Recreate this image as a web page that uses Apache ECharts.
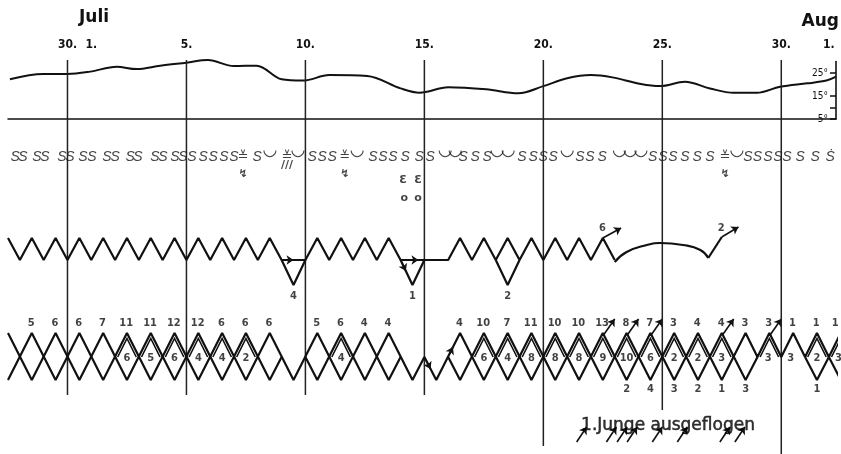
<!DOCTYPE html>
<html><head><meta charset="utf-8">
<script src="https://cdn.jsdelivr.net/npm/echarts@6/dist/echarts.min.js"></script>
<style>html,body{margin:0;padding:0;background:#fff}#c{width:841px;height:454px}</style>
</head><body><div id="c"></div>
<script>
// ---------------- DATA ----------------
// day index: 0 = 30. Juni, 1 = 1. Juli ... 30 = 30. Juli, 32 = 1. Aug
const dayTicks  = [0, 1, 5, 10, 15, 20, 25, 30, 32];
const dayLabels = ['30.', '1.', '5.', '10.', '15.', '20.', '25.', '30.', '1.'];
const dayLines  = [0, 5, 10, 15, 20, 25, 30];

// temperature (°C)
const tempDays   = [-2.42,-1.02,0,0.95,2.07,2.9,3.9,5.0,5.9,7.0,7.95,9.0,9.9,11.0,12.6,14.0,14.8,16.0,17.6,18.95,20.0,21.0,22.0,22.9,24.1,24.9,25.95,27.0,28.0,28.97,29.95,31.1,31.9,32.3];
const tempValues = [22.3,24.6,24.6,25.6,27.7,26.7,28.2,29.5,30.6,28.0,28.2,22.3,21.7,24.1,23.7,18.3,16.4,18.8,17.9,16.2,19.3,22.7,24.1,23.1,20.2,19.3,21.2,18.3,16.4,16.4,19.0,20.5,21.7,23.4];
const tempTicks  = [5, 15, 25];
const tempMinorTicks = [5, 10, 15, 25];

// weather observations (S = sonnig, C = bewölkt, R = Gewitter/Regen, D = S mit Punkt)
const weatherDays  = [-2.2,-1.87,-1.28,-0.95,-0.23,0.1,0.65,1.03,1.66,2.0,2.63,2.96,3.68,4.01,4.52,4.85,5.23,5.70,6.12,6.58,7.0,
  7.38,7.97,8.51,9.23,9.69,10.28,10.70,11.12,11.66,12.17,12.84,13.26,13.68,14.19,14.78,15.24,15.87,16.29,16.63,17.13,17.64,
  18.06,18.52,19.1,19.57,19.99,20.41,21.0,21.54,21.96,22.47,23.2,23.65,24.1,24.6,25.03,25.45,25.95,26.46,27.0,27.64,28.14,
  28.6,29.0,29.44,29.86,30.24,30.79,31.42,32.05];
const weatherCodes = ['S','S','S','S','S','S','S','S','S','S','S','S','S','S','S','S','S','S','S','S','S',
  'R','S','C','R','C','S','S','S','R','C','S','S','S','S','S','S','C','C','S','S','S',
  'C','C','S','S','S','S','C','S','S','S','C','C','C','S','S','S','S','S','S','R','C',
  'S','S','S','S','S','S','S','D'];
const extraDays  = [7.38, 9.23, 11.66, 27.64, 14.1, 14.73, 14.15, 14.73];
const extraCodes = ['Z', 'W', 'Z', 'Z', 'E', 'E', 'O', 'O'];

// row 1: activity line (H = oben, L = unten, D = tief)
const row1Main = [[-2.5,'H'],[-2,'L'],[-1.5,'H'],[-1,'L'],[-0.5,'H'],[0,'L'],[0.5,'H'],[1,'L'],[1.5,'H'],[2,'L'],[2.5,'H'],[3,'L'],
  [3.5,'H'],[4,'L'],[4.5,'H'],[5,'L'],[5.5,'H'],[6,'L'],[6.5,'H'],[7,'L'],[7.5,'H'],[8,'L'],[8.5,'H'],[9,'L'],[10,'L'],[10.5,'H'],
  [11,'L'],[11.5,'H'],[12,'L'],[12.5,'H'],[13,'L'],[13.5,'H'],[14,'L'],[16,'L'],[16.5,'H'],[17,'L'],[17.5,'H'],[18,'L'],[18.5,'H'],
  [19,'L'],[19.5,'H'],[20,'L'],[20.5,'H'],[21,'L'],[21.5,'H'],[22,'L'],[22.5,'H'],[23,'L']];
const row1DipDays   = [9.5, 14.5, 18.5];
const row1DipLabels = ['4', '1', '2'];
const row1ArcDays   = [23, 23.5, 24.35, 24.9, 25.87, 26.6, 26.93];
const row1ArcLevels = [20.6, 19.6, 18.9, 18.7, 18.9, 19.4, 20.2];
const row1ExitDays   = [22.5, 27.5];
const row1ExitLabels = ['6', '2'];

// row 2: two crossing lines (T = oben, M = Mitte, B = unten)
const row2Lines = [
  [[-2.5,'T'],[-1.5,'B'],[-0.5,'T'],[0.5,'B'],[1.5,'T'],[2.5,'B'],[3.5,'T'],[4.5,'B'],[5.5,'T'],[6.5,'B'],[7.5,'T'],[8.5,'B'],[9,'M']],
  [[10,'M'],[10.5,'B'],[11.5,'T'],[12.5,'B'],[13.5,'T'],[14.5,'B'],[15,'M'],[15.5,'B'],[16.5,'T'],[17.5,'B'],[18.5,'T'],[19.5,'B'],
   [20.5,'T'],[21.5,'B'],[22.5,'T'],[23.5,'B'],[24.5,'T'],[25.5,'B'],[26.5,'T'],[27.5,'B'],[28.5,'T'],[29,'M'],[29.5,'T'],[30,'M'],
   [30.5,'T'],[31,'M'],[31.5,'T'],[32,'M'],[32.5,'T']],
  [[-2.5,'B'],[-1.5,'T'],[-0.5,'B'],[0.5,'T'],[1.5,'B'],[2.5,'T'],[3.5,'B'],[4.5,'T'],[5.5,'B'],[6.5,'T'],[7.5,'B'],[8.5,'T'],
   [9.5,'B'],[10.5,'T'],[11.5,'B'],[12.5,'T'],[13.5,'B'],[14,'M']],
  [[16,'M'],[16.5,'B'],[17.5,'T'],[18.5,'B'],[19.5,'T'],[20.5,'B'],[21.5,'T'],[22.5,'B'],[23.5,'T'],[24.5,'B'],[25.5,'T'],
   [26.5,'B'],[27.5,'T'],[28.5,'B'],[29,'M']],
  [[31,'M'],[31.5,'B'],[32,'M'],[32.5,'B']]
];
const row2TopDays   = [-1.5,-0.5,0.5,1.5,2.5,3.5,4.5,5.5,6.5,7.5,8.5,10.5,11.5,12.5,13.5,16.5,17.5,18.5,19.5,20.5,21.5,22.5,23.5,24.5,25.5,26.5,27.5,28.5,29.5,30.5,31.5,32.3];
const row2TopCounts = ['5','6','6','7','11','11','12','12','6','6','6','5','6','4','4','4','10','7','11','10','10','13','8','7','3','4','4','3','3','1','1','1'];
const row2InDays    = [2.5,3.5,4.5,5.5,6.5,7.5,11.5,17.5,18.5,19.5,20.5,21.5,22.5,23.5,24.5,25.5,26.5,27.5,29.45,30.4,31.5,32.4];
const row2InCounts  = ['6','5','6','4','4','2','4','6','4','8','8','8','9','10','6','2','2','3','3','3','2','3'];
const row2BelowDays   = [23.5,24.5,25.5,26.5,27.5,28.5,31.5];
const row2BelowCounts = ['2','4','3','2','1','3','1'];
const row2DoubleDays  = [2.5,3.5,4.5,5.5,6.5,7.5,11.5,17.5,18.5,19.5,20.5,21.5,22.5,23.5,24.5,25.5,26.5,27.5,29.5,31.5,32.5];
const row2ExitDays    = [22.5,23.5,24.5,27.5,29.5];

// fledging
const fledgeDays = [21.6,22.85,23.3,23.72,24.78,25.83,27.62,28.25];
const fledgeText = '1.Junge ausgeflogen';

// ---------------- LAYOUT (levels of the lower panel, 1 unit = 10 px) ----------------
const LV = {H:18.2, L:20.4, D:22.9, T:27.7, M:30.1, B:32.4};
const LAY = {
  lineTop: 0.4, lineEnds: [33.9,33.9,33.9,33.9,39.0,35.4,39.8],
  weather: 10.1, cloud: 9.5, bolt: 11.8, rain: 10.9, eSym: 12.4, oSym: 14.2,
  dipLabel: 24.0, exitLabel: 17.2,
  topLabel: 26.7, inLabel: 30.2, belowLabel: 33.3,
  fledgeText: 37.0, fledgeTail: 38.6, fledgeHead: 37.1
};
const INK = '#111';
const X0 = -2.5, X1 = 32.3;

const lv = pts => pts.map(p => [p[0], LV[p[1]]]);

const series = [];
// temperature
series.push({type:'line', xAxisIndex:0, yAxisIndex:0, data: tempDays.map((d,i)=>[d,tempValues[i]]),
  smooth:0.35, showSymbol:false, clip:false, lineStyle:{color:INK, width:2}, silent:true});
// day lines
dayLines.forEach((d,i)=>series.push({type:'line', xAxisIndex:2, yAxisIndex:1, showSymbol:false, silent:true,
  data:[[d,LAY.lineTop],[d,LAY.lineEnds[i]]], lineStyle:{color:'#222', width:1.5}}));

const L = (data, w, extra) => Object.assign({type:'line', xAxisIndex:2, yAxisIndex:1, showSymbol:false, silent:true,
  data, lineStyle:{color:INK, width:w||2.2}}, extra||{});

// row 1
series.push(L(lv(row1Main)));
row1DipDays.forEach(d => series.push(L([[d-0.5,LV.L],[d,LV.D],[d+0.5,LV.L]])));
series.push(L(row1ArcDays.map((d,i)=>[d,row1ArcLevels[i]]), 2.2, {smooth:0.5}));
series.push(L([[row1ArcDays[row1ArcDays.length-1], row1ArcLevels[row1ArcLevels.length-1]],[row1ExitDays[1],18.1]]));

// row 2
row2Lines.forEach(ln => series.push(L(lv(ln), 2.2)));

// double chevrons
const chevrons = row2DoubleDays.map(d => ({coords:[[d-0.5+0.11, LV.M],[d, LV.T+0.55],[d+0.5-0.11, LV.M]]}));
series.push({type:'lines', coordinateSystem:'cartesian2d', xAxisIndex:2, yAxisIndex:1, polyline:true, silent:true,
  data: chevrons, lineStyle:{color:INK, width:1.6, opacity:1}});

// arrows
const arrows = [];
arrows.push({coords:[[row1ExitDays[0],LV.H],[row1ExitDays[0]+0.77,17.2]]});
arrows.push({coords:[[row1ExitDays[1],18.1],[row1ExitDays[1]+0.7,17.1]]});
row2ExitDays.forEach(d => arrows.push({coords:[[d+0.03,27.9],[d+0.5,26.3]]}));
arrows.push({coords:[[9.25,LV.L],[9.5,LV.L]]});
arrows.push({coords:[[14.5,LV.L],[14.75,LV.L]]});
arrows.push({coords:[[14.04,20.6],[14.22,21.5]]});
arrows.push({coords:[[15.08,30.47],[15.26,31.3]]});
arrows.push({coords:[[16.05,29.8],[16.2,29.11]]});
fledgeDays.forEach(d => arrows.push({coords:[[d-0.2, LAY.fledgeTail],[d+0.22, LAY.fledgeHead]]}));
series.push({type:'lines', coordinateSystem:'cartesian2d', xAxisIndex:2, yAxisIndex:1, silent:true,
  symbol:['none','arrow'], symbolSize:7, data: arrows, lineStyle:{color:INK, width:1.6, opacity:1}});

// text helpers
const T = (pts, style) => ({type:'scatter', xAxisIndex:2, yAxisIndex:1, symbolSize:1, silent:true, clip:false,
  itemStyle:{color:'rgba(0,0,0,0)'}, data: pts,
  label:Object.assign({show:true, position:'inside', formatter:p=>p.data[2], color:INK}, style)});
const NUM = {fontFamily:'DejaVu Sans Condensed', fontSize:11, fontWeight:'bold'};

// weather
const glyph = {S:'S', C:'◡', R:'≚', D:'Ṡ'};
const wPts = (codes, level) => weatherDays.map((d,i)=>[d, level, glyph[weatherCodes[i]], weatherCodes[i]])
  .filter(p => codes.indexOf(p[3]) >= 0);
series.push(T(wPts(['S','D'], LAY.weather), {fontFamily:'Liberation Sans', fontStyle:'italic', fontSize:14}));
series.push(T(wPts(['C'], LAY.cloud), {fontFamily:'DejaVu Sans', fontSize:17}));
series.push(T(wPts(['R'], LAY.weather), {fontFamily:'DejaVu Sans', fontSize:13}));
const exGlyph = {Z:['↯',LAY.bolt], W:['///',LAY.rain], E:['Ɛ',LAY.eSym], O:['o',LAY.oSym]};
series.push(T(extraDays.map((d,i)=>[d, exGlyph[extraCodes[i]][1], exGlyph[extraCodes[i]][0]]),
  {fontFamily:'DejaVu Sans', fontSize:11, fontWeight:'bold'}));

// row labels
series.push(T(row1DipDays.map((d,i)=>[d, LAY.dipLabel, row1DipLabels[i]]), NUM));
series.push(T(row1ExitDays.map((d,i)=>[d-0.02, LAY.exitLabel, row1ExitLabels[i]]), NUM));
series.push(T(row2TopDays.map((d,i)=>[d-0.03, LAY.topLabel, row2TopCounts[i]]), NUM));
series.push(T(row2InDays.map((d,i)=>[d, LAY.inLabel, row2InCounts[i]]), NUM));
series.push(T(row2BelowDays.map((d,i)=>[d, LAY.belowLabel, row2BelowCounts[i]]), NUM));
series.push(T([[25.24, LAY.fledgeText, fledgeText]], {fontFamily:'DejaVu Sans', fontSize:17, color:'#000',
  textBorderColor:'#000', textBorderWidth:0.5}));

const option = {
  animation:false,
  backgroundColor:'#fff',
  grid:[
    {left:8, right:5, top:61.5, height:57.5},
    {left:8, right:5, top:56, bottom:0}
  ],
  xAxis:[
    {gridIndex:0, type:'value', min:X0, max:X1, position:'bottom',
      axisLine:{show:true, onZero:false, lineStyle:{color:INK, width:1.5}}, axisTick:{show:false}, axisLabel:{show:false}, splitLine:{show:false}},
    {gridIndex:0, type:'value', min:X0, max:X1, position:'top',
      axisLine:{show:false, onZero:false}, axisTick:{show:false}, splitLine:{show:false},
      axisLabel:{customValues:dayTicks, formatter:v=>dayLabels[dayTicks.indexOf(v)], margin:11, color:INK,
        fontFamily:'DejaVu Sans Condensed', fontSize:12, fontWeight:'bold'}},
    {gridIndex:1, type:'value', min:X0, max:X1, show:false}
  ],
  yAxis:[
    {gridIndex:0, type:'value', min:5, max:30, position:'right',
      axisLine:{show:true, onZero:false, lineStyle:{color:INK, width:1.6}},
      axisTick:{show:true, inside:true, length:6, customValues:tempMinorTicks, lineStyle:{color:INK, width:1.5}},
      axisLabel:{inside:true, customValues:tempTicks, formatter:'{value}°', margin:8, color:INK,
        fontFamily:'DejaVu Sans Condensed', fontSize:10},
      splitLine:{show:false}},
    {gridIndex:1, type:'value', min:0, max:39.8, inverse:true, show:false}
  ],
  graphic:[
    {type:'text', left:79, top:9, style:{text:'Juli', fontFamily:'DejaVu Sans', fontSize:17, fontWeight:'bold', fill:INK}},
    {type:'text', right:2, top:13, style:{text:'Aug', fontFamily:'DejaVu Sans', fontSize:17, fontWeight:'bold', fill:INK}}
  ],
  series
};
const chart = echarts.init(document.getElementById('c'), null, {renderer:'canvas'});
chart.setOption(option);
</script></body></html>
